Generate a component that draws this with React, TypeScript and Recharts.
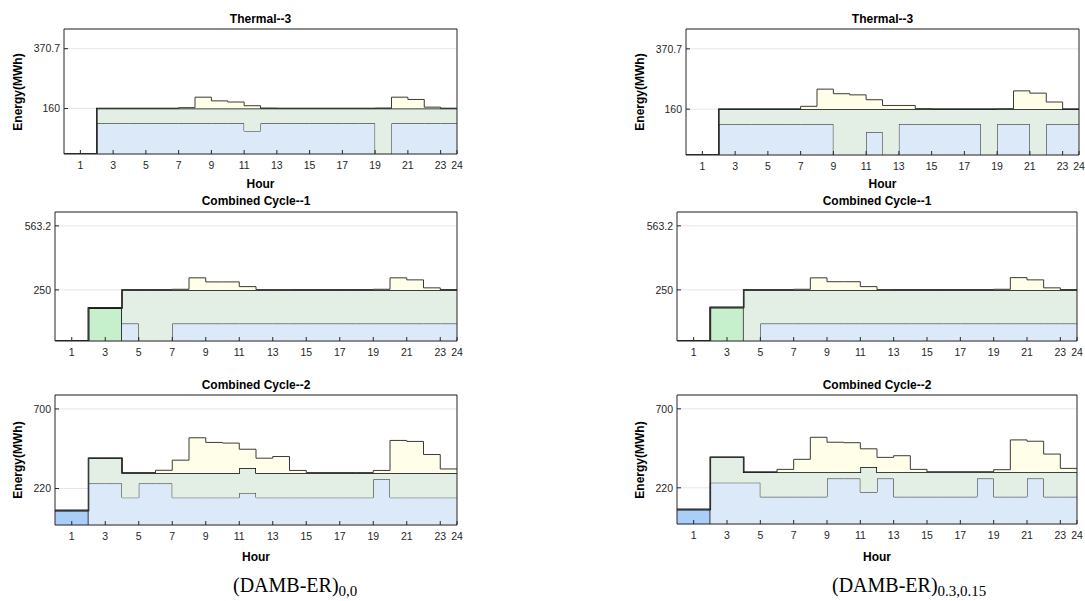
import React from "react";
import { ComposedChart, Area, XAxis, YAxis, CartesianGrid } from "recharts";

// hour marks on the x axis (stairs are drawn from each mark to the next)
const HOUR_MARKS = [0, 1, 2, 3, 4, 5, 6, 7, 8, 9, 10, 11, 12, 13, 14, 15, 16, 17, 18, 19, 20, 21, 22, 23, 24];
const HOUR_TICKS = [1, 3, 5, 7, 9, 11, 13, 15, 17, 19, 21, 23, 24];

const T3_TICKS = [160, 370.7];
const CC1_TICKS = [250, 563.2];
const CC2_TICKS = [220, 700];

// ---- (DAMB-ER)0,0 ----
const lT3Base = [0, 0, 108, 108, 108, 108, 108, 108, 108, 108, 108, 81, 108, 108, 108, 108, 108, 108, 108, 0, 108, 108, 108, 108];
const lT3Mid = [0, 0, 52, 52, 52, 52, 52, 52, 52, 52, 52, 79, 52, 52, 52, 52, 52, 52, 52, 160, 52, 52, 52, 52];
const lT3Top = [0, 0, 0, 0, 0, 0, 0, 3, 40, 27, 23, 10, 1, 0, 0, 0, 0, 0, 0, 1, 40, 32, 5, 0];

const lCC1Start = [0, 0, 162, 162, 0, 0, 0, 0, 0, 0, 0, 0, 0, 0, 0, 0, 0, 0, 0, 0, 0, 0, 0, 0];
const lCC1Base = [0, 0, 0, 0, 85, 0, 0, 85, 85, 85, 85, 85, 85, 85, 85, 85, 85, 85, 85, 85, 85, 85, 85, 85];
const lCC1Mid = [0, 0, 0, 0, 165, 250, 250, 165, 165, 165, 165, 165, 165, 165, 165, 165, 165, 165, 165, 165, 165, 165, 165, 165];
const lCC1Top = [0, 0, 0, 0, 0, 0, 0, 3, 59, 39, 39, 16, 1, 1, 0, 0, 0, 0, 0, 3, 59, 49, 10, 0];

const lCC2Start = [87, 87, 0, 0, 0, 0, 0, 0, 0, 0, 0, 0, 0, 0, 0, 0, 0, 0, 0, 0, 0, 0, 0, 0];
const lCC2Base = [0, 0, 250, 250, 165, 250, 250, 165, 165, 165, 165, 193, 165, 165, 165, 165, 165, 165, 165, 276, 165, 165, 165, 165];
const lCC2Mid = [0, 0, 153, 153, 149, 64, 64, 149, 149, 149, 149, 151, 149, 149, 149, 149, 149, 149, 149, 38, 149, 149, 149, 149];
const lCC2Top = [0, 0, 0, 0, 0, 0, 16, 77, 212, 184, 180, 113, 89, 99, 15, 2, 2, 2, 2, 15, 196, 190, 111, 24];

// ---- (DAMB-ER)0.3,0.15 ----
const rT3Base = [0, 0, 108, 108, 108, 108, 108, 108, 108, 0, 0, 80, 0, 108, 108, 108, 108, 108, 0, 108, 108, 0, 108, 108];
const rT3Mid = [0, 0, 52, 52, 52, 52, 52, 52, 52, 160, 160, 80, 160, 52, 52, 52, 52, 52, 160, 52, 52, 160, 52, 52];
const rT3Top = [0, 0, 0, 0, 0, 0, 0, 10, 70, 54, 50, 33, 13, 13, 2, 0, 0, 0, 0, 1, 64, 56, 25, 0];

const rCC1Start = [0, 0, 164, 164, 0, 0, 0, 0, 0, 0, 0, 0, 0, 0, 0, 0, 0, 0, 0, 0, 0, 0, 0, 0];
const rCC1Base = [0, 0, 0, 0, 0, 85, 85, 85, 85, 85, 85, 85, 85, 85, 85, 85, 85, 85, 85, 85, 85, 85, 85, 85];
const rCC1Mid = [0, 0, 0, 0, 250, 165, 165, 165, 165, 165, 165, 165, 165, 165, 165, 165, 165, 165, 165, 165, 165, 165, 165, 165];
const rCC1Top = [0, 0, 0, 0, 0, 0, 0, 3, 59, 40, 40, 16, 1, 0, 0, 0, 0, 0, 0, 3, 60, 49, 10, 0];

const rCC2Start = [88, 88, 0, 0, 0, 0, 0, 0, 0, 0, 0, 0, 0, 0, 0, 0, 0, 0, 0, 0, 0, 0, 0, 0];
const rCC2Base = [0, 0, 251, 251, 251, 165, 165, 165, 165, 276, 276, 193, 276, 165, 165, 165, 165, 165, 276, 165, 165, 276, 165, 165];
const rCC2Mid = [0, 0, 154, 154, 64, 150, 150, 150, 150, 39, 39, 153, 39, 150, 150, 150, 150, 150, 39, 150, 150, 39, 150, 150];
const rCC2Top = [0, 0, 0, 0, 0, 0, 17, 78, 212, 182, 179, 111, 90, 100, 17, 1, 1, 1, 1, 15, 196, 188, 110, 23];

const FONT = "'Liberation Sans', Arial, Helvetica, sans-serif";
const SERIF = "'Liberation Serif', 'Times New Roman', serif";
const INK = "#262626";

type Layer = { key: string; values: number[]; fill: string; stroke: string; width: number };

function toRows(layers: Layer[]) {
  return HOUR_MARKS.map((h, i) => {
    const row: Record<string, number> = { h };
    layers.forEach((l) => {
      row[l.key] = l.values[Math.min(i, l.values.length - 1)];
    });
    return row;
  });
}

function layersFor(base: number[], mid: number[], top: number[], start?: number[], startFill?: string): Layer[] {
  const out: Layer[] = [];
  if (start) out.push({ key: "start", values: start, fill: startFill || "#c6f0cb", stroke: "#000", width: 1.5 });
  out.push({ key: "base", values: base, fill: "#dce9f8", stroke: "#262626", width: 1 });
  out.push({ key: "mid", values: mid, fill: "#e3eee4", stroke: "#000", width: 1.5 });
  out.push({ key: "top", values: top, fill: "#fefee9", stroke: "#3a3a3a", width: 1 });
  return out;
}

type PanelProps = {
  left: number;
  top: number;
  width: number;
  height: number;
  yMax: number;
  yTicks: number[];
  layers: Layer[];
};

const YW = 44;
const RW = 8;
const TH = 8;
const BH = 30;

function Panel({ left, top, width, height, yMax, yTicks, layers }: PanelProps) {
  const data = toRows(layers);
  return (
    <div style={{ position: "absolute", left: left - YW, top: top - TH }}>
      <ComposedChart
        width={YW + width + RW}
        height={TH + height + BH}
        data={data}
        margin={{ top: 0, right: 0, bottom: 0, left: 0 }}
      >
        <CartesianGrid vertical={false} stroke="#e6e6e6" strokeWidth={1} />
        {layers.map((l) => (
          <Area
            key={l.key}
            dataKey={l.key}
            stackId="s"
            type="stepAfter"
            fill={l.fill}
            fillOpacity={1}
            stroke={l.stroke}
            strokeWidth={l.width}
            dot={false}
            activeDot={false}
            isAnimationActive={false}
          />
        ))}
        <XAxis
          dataKey="h"
          type="number"
          domain={[0, 24]}
          ticks={HOUR_TICKS}
          interval={0}
          allowDataOverflow
          height={BH}
          tickSize={-4}
          tickMargin={12}
          stroke={INK}
          tick={{ fill: INK, fontSize: 10.5, fontFamily: FONT }}
        />
        <XAxis
          xAxisId="top"
          orientation="top"
          dataKey="h"
          type="number"
          domain={[0, 24]}
          ticks={HOUR_TICKS}
          interval={0}
          height={TH}
          tickSize={-4}
          tick={false}
          stroke={INK}
        />
        <YAxis
          type="number"
          domain={[0, yMax]}
          ticks={yTicks}
          interval={0}
          allowDataOverflow
          width={YW}
          tickSize={-4}
          tickMargin={8}
          stroke={INK}
          tick={{ fill: INK, fontSize: 10.5, fontFamily: FONT }}
        />
        <YAxis
          yAxisId="r"
          orientation="right"
          type="number"
          domain={[0, yMax]}
          ticks={yTicks}
          interval={0}
          width={RW}
          tickSize={-4}
          tick={false}
          stroke={INK}
        />
      </ComposedChart>
    </div>
  );
}

function Label({ x, y, text, size = 12, rotate = false }: { x: number; y: number; text: string; size?: number; rotate?: boolean }) {
  return (
    <text
      x={x}
      y={y}
      textAnchor="middle"
      dominantBaseline="central"
      fontFamily={FONT}
      fontWeight={700}
      fontSize={size}
      fill="#000"
      transform={rotate ? `rotate(-90 ${x} ${y})` : undefined}
    >
      {text}
    </text>
  );
}

export default function App() {
  return (
    <div style={{ position: "absolute", left: 0, top: 0, width: 1085, height: 601, background: "#fff", overflow: "hidden" }}>
      <Panel left={64} top={29} width={393} height={125} yMax={440} yTicks={T3_TICKS} layers={layersFor(lT3Base, lT3Mid, lT3Top)} />
      <Panel left={55} top={212} width={402} height={129} yMax={631} yTicks={CC1_TICKS} layers={layersFor(lCC1Base, lCC1Mid, lCC1Top, lCC1Start, "#c6f0cb")} />
      <Panel left={55} top={395} width={402} height={130} yMax={784} yTicks={CC2_TICKS} layers={layersFor(lCC2Base, lCC2Mid, lCC2Top, lCC2Start, "#a9cef7")} />
      <Panel left={686} top={29} width={393} height={126} yMax={440} yTicks={T3_TICKS} layers={layersFor(rT3Base, rT3Mid, rT3Top)} />
      <Panel left={677} top={212} width={400} height={129} yMax={631} yTicks={CC1_TICKS} layers={layersFor(rCC1Base, rCC1Mid, rCC1Top, rCC1Start, "#c6f0cb")} />
      <Panel left={677} top={395} width={400} height={129} yMax={784} yTicks={CC2_TICKS} layers={layersFor(rCC2Base, rCC2Mid, rCC2Top, rCC2Start, "#a9cef7")} />

      <svg width={1085} height={601} style={{ position: "absolute", left: 0, top: 0, pointerEvents: "none" }}>
        <Label x={260.5} y={19} text="Thermal--3" />
        <Label x={882.5} y={19} text="Thermal--3" />
        <Label x={256} y={201} text="Combined Cycle--1" />
        <Label x={877} y={200.5} text="Combined Cycle--1" />
        <Label x={256} y={385} text="Combined Cycle--2" />
        <Label x={877} y={385} text="Combined Cycle--2" />

        <Label x={260.5} y={184} text="Hour" />
        <Label x={882.5} y={184} text="Hour" />
        <Label x={256} y={557} text="Hour" />
        <Label x={877} y={557} text="Hour" />

        <Label x={18} y={92} text="Energy(MWh)" rotate />
        <Label x={640} y={92} text="Energy(MWh)" rotate />
        <Label x={18} y={460} text="Energy(MWh)" rotate />
        <Label x={640} y={460} text="Energy(MWh)" rotate />

        <text x={233} y={592} fontFamily={SERIF} fontSize={20} fill="#000">
          (DAMB-ER)
          <tspan fontSize={15} dy={4}>0,0</tspan>
        </text>
        <text x={832} y={592} fontFamily={SERIF} fontSize={20} fill="#000">
          (DAMB-ER)
          <tspan fontSize={15} dy={4}>0.3,0.15</tspan>
        </text>
      </svg>
    </div>
  );
}
